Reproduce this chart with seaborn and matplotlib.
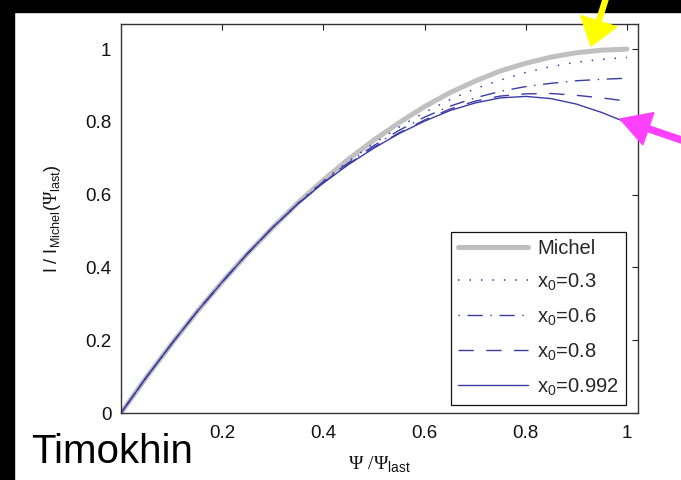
import matplotlib
matplotlib.use("Agg")
import matplotlib.pyplot as plt
import matplotlib.patches as mpatches
import seaborn as sns

# ---- data ----
psi = [0.0, 0.05, 0.10, 0.15, 0.20, 0.25, 0.30, 0.35, 0.40, 0.45, 0.50,
       0.55, 0.60, 0.65, 0.70, 0.75, 0.80, 0.85, 0.90, 0.95, 1.00]
michel = [0.0, 0.098, 0.190, 0.278, 0.360, 0.438, 0.510, 0.578, 0.640, 0.698, 0.750,
          0.798, 0.842, 0.880, 0.912, 0.940, 0.961, 0.978, 0.990, 0.997, 1.000]
x0_03 = [0.0, 0.098, 0.190, 0.278, 0.360, 0.438, 0.510, 0.577, 0.638, 0.692, 0.741,
         0.786, 0.826, 0.861, 0.891, 0.915, 0.936, 0.952, 0.964, 0.972, 0.977]
x0_06 = [0.0, 0.098, 0.190, 0.278, 0.360, 0.438, 0.510, 0.576, 0.636, 0.688, 0.735,
         0.777, 0.813, 0.843, 0.866, 0.884, 0.897, 0.906, 0.913, 0.917, 0.920]
x0_08 = [0.0, 0.098, 0.190, 0.278, 0.360, 0.438, 0.510, 0.575, 0.633, 0.685, 0.730,
         0.770, 0.805, 0.835, 0.857, 0.871, 0.877, 0.878, 0.873, 0.866, 0.857]
x0_0992 = [0.0, 0.098, 0.190, 0.278, 0.360, 0.438, 0.510, 0.575, 0.632, 0.683, 0.728,
           0.768, 0.802, 0.831, 0.852, 0.866, 0.870, 0.864, 0.849, 0.826, 0.798]
labels = ["Michel", "x$_{\\mathsf{0}}$=0.3", "x$_{\\mathsf{0}}$=0.6",
          "x$_{\\mathsf{0}}$=0.8", "x$_{\\mathsf{0}}$=0.992"]
xticks = [0.2, 0.4, 0.6, 0.8, 1.0]
xticklabels = ["0.2", "0.4", "0.6", "0.8", "1"]
yticks = [0, 0.2, 0.4, 0.6, 0.8, 1.0]
yticklabels = ["0", "0.2", "0.4", "0.6", "0.8", "1"]

sns.set_theme(style="white")
plt.rcParams["font.family"] = ["Liberation Sans", "DejaVu Sans"]
plt.rcParams["mathtext.fontset"] = "custom"
plt.rcParams["mathtext.rm"] = "Liberation Serif"
plt.rcParams["mathtext.it"] = "Liberation Sans:italic"
plt.rcParams["mathtext.sf"] = "Liberation Sans"

W, H = 681, 480
fig = plt.figure(figsize=(W / 100, H / 100), dpi=100, facecolor="white")
ax = fig.add_axes([121 / W, 1 - 413 / H, 517 / W, 389 / H])

blue = "#3b3ba8"
sns.lineplot(x=psi, y=michel, ax=ax, color="#c0c0c0", linewidth=3.6,
             label=labels[0])
sns.lineplot(x=psi, y=x0_03, ax=ax, color=blue, linewidth=1.1,
             linestyle=(0, (1, 6.5)), label=labels[1])
sns.lineplot(x=psi, y=x0_06, ax=ax, color=blue, linewidth=1.0,
             linestyle=(0, (1, 5.5, 11, 5.5)), label=labels[2])
sns.lineplot(x=psi, y=x0_08, ax=ax, color=blue, linewidth=1.0,
             linestyle=(0, (11, 9)), label=labels[3])
sns.lineplot(x=psi, y=x0_0992, ax=ax, color=blue, linewidth=1.0,
             label=labels[4])

ax.set_xlim(0, 1.022)
ax.set_ylim(0, 1.069)
ax.set_xticks(xticks)
ax.set_xticklabels(xticklabels)
ax.set_yticks(yticks)
ax.set_yticklabels(yticklabels)
ax.tick_params(direction="in", top=True, right=True, length=4.3, width=0.8,
               color="#222222", labelsize=13.5, labelcolor="#111111", pad=7)
ax.tick_params(axis="x", pad=9)
for s in ax.spines.values():
    s.set_color("#333333")
    s.set_linewidth(1.0)

ax.set_xlabel(r"$\Psi\ /\Psi_{\mathsf{last}}$", fontsize=14, color="#111111")
ax.xaxis.set_label_coords(0.5, -0.105)
ax.set_ylabel(r"$\mathsf{I\ /\ I_{Michel}(}\Psi_{\mathsf{last}}\mathsf{)}$",
              fontsize=13, color="#111111")
ax.yaxis.set_label_coords(-0.112, 0.5)

leg = ax.legend(loc="lower right", bbox_to_anchor=(0.977, 0.021),
                fontsize=14.5, frameon=True, fancybox=False, framealpha=1,
                edgecolor="#111111", handlelength=3.5, handletextpad=0.45,
                labelspacing=0.68, borderpad=0.35, borderaxespad=0)
leg.get_frame().set_linewidth(0.9)

fig.text(31 / W, 1 - 463 / H, "Timokhin", fontsize=29, color="black",
         ha="left", va="baseline")

# black border strips of the slide
fig.patches.append(mpatches.Rectangle((0, 1 - 12 / H), 1, 12 / H,
                                      transform=fig.transFigure,
                                      color="black", zorder=0))
fig.patches.append(mpatches.Rectangle((0, 0), 14 / W, 1,
                                      transform=fig.transFigure,
                                      color="black", zorder=0))

# slide arrows (pixel coordinates)
def arrow(x0, y0, x1, y1, color, width, hw, hl):
    p = mpatches.FancyArrow(x0 / 100, (H - y0) / 100, (x1 - x0) / 100,
                            (y0 - y1) / 100, width=width / 100,
                            head_width=hw / 100, head_length=hl / 100,
                            length_includes_head=True, color=color,
                            transform=fig.dpi_scale_trans, zorder=10)
    fig.patches.append(p)

arrow(606, -2, 591, 46, "#ffff00", 5, 38, 26)
arrow(690, 143, 620, 119, "#ff40ff", 6, 34, 30)

fig.savefig("out.png", dpi=100, facecolor="white")
